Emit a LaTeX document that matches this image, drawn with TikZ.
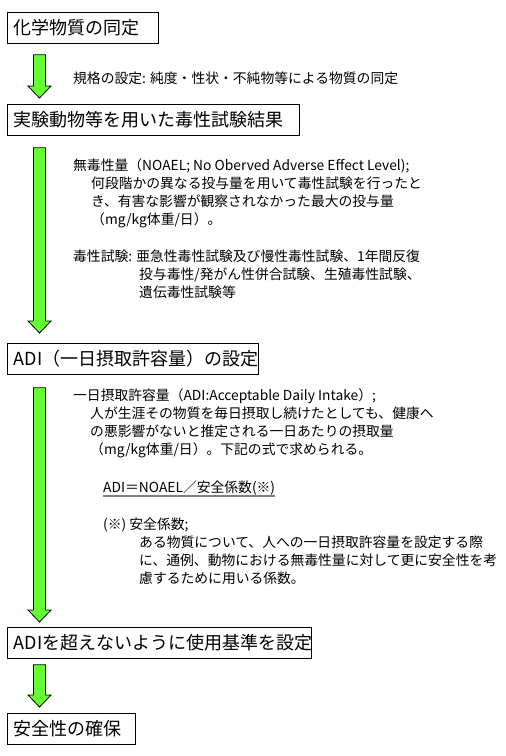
\documentclass[tikz,border=0pt]{standalone}
\usepackage{fontspec}
\setmainfont{Noto Sans CJK JP}
\usetikzlibrary{calc}
\definecolor{arrowgreen}{RGB}{102,255,51}
\tikzset{
  stagebox/.style={draw=black, line width=0.8pt, anchor=north west, inner xsep=6.5pt, inner ysep=0pt,
    minimum height=31pt, font=\fontsize{18}{20}\selectfont},
  bodytext/.style={anchor=base west, inner sep=0pt, font=\fontsize{13.8}{18}\selectfont},
  fatarrow/.style={draw=black, line width=0.8pt, fill=arrowgreen, line join=miter},
  underl/.style={draw=gray, line width=1.4pt}
}
\newcommand\greenarrow[2]{\path[fatarrow] let \p1=(#1), \p2=(#2) in
  (\x1-6pt,\y1) -- (\x1+6pt,\y1) -- (\x1+6pt,\y2+12pt) -- (\x1+11.5pt,\y2+12pt)
  -- (\x1,\y2) -- (\x1-11.5pt,\y2+12pt) -- (\x1-6pt,\y2+12pt) -- cycle;}
\begin{document}
\begin{tikzpicture}[x=1pt,y=-1pt]
\useasboundingbox[fill=white] (0,0) rectangle (506,756);
% stage boxes
\node[stagebox] (b1) at (7,12)  {\makebox[138pt][l]{化学物質の同定}};
\node[stagebox] (b2) at (7,104) {\makebox[279pt][l]{実験動物等を用いた毒性試験結果}};
\node[stagebox] (b3) at (7,343) {\makebox[238pt][l]{ADI（一日摂取許容量）の設定}};
\node[stagebox] (b4) at (7,627) {\makebox[291pt][l]{ADIを超えないように使用基準を設定}};
\node[stagebox] (b5) at (7,713) {\makebox[115pt][l]{安全性の確保}};
% arrow end points
\coordinate (a1s) at ($(b1.south west)+(32.5,11)$);
\coordinate (a1e) at ($(b2.north west)+(32.5,-6)$);
\coordinate (a2s) at ($(b2.south west)+(32.5,12)$);
\coordinate (a2e) at ($(b3.north west)+(32.5,-10)$);
\coordinate (a3s) at ($(b3.south west)+(32.5,13)$);
\coordinate (a3e) at ($(b4.north west)+(32.5,-5)$);
\coordinate (a4s) at ($(b4.south west)+(32.5,6)$);
\coordinate (a4e) at ($(b5.north west)+(32.5,-6)$);
\greenarrow{a1s}{a1e}
\greenarrow{a2s}{a2e}
\greenarrow{a3s}{a3e}
\greenarrow{a4s}{a4e}
% texts, step 1
\node[bodytext] (t1) at (73,83) {規格の設定: 純度・性状・不純物等による物質の同定};
% texts, step 2
\node[bodytext] (t2a) at (73,170) {無毒性量（NOAEL; No Oberved Adverse Effect Level);};
\node[bodytext] (t2b) at (91,188) {何段階かの異なる投与量を用いて毒性試験を行ったと};
\node[bodytext] (t2c) at (91,206) {き、有害な影響が観察されなかった最大の投与量};
\node[bodytext] (t2d) at (91,224) {（mg/kg体重/日）。};
\node[bodytext] (t2e) at (73,261) {毒性試験: 亜急性毒性試験及び慢性毒性試験、1年間反復};
\node[bodytext] (t2f) at (139,279) {投与毒性/発がん性併合試験、生殖毒性試験、};
\node[bodytext] (t2g) at (139,297) {遺伝毒性試験等};
% texts, step 3
\node[bodytext] (t3a) at (73,400) {一日摂取許容量（ADI:Acceptable Daily Intake）;};
\node[bodytext] (t3b) at (90,418) {人が生涯その物質を毎日摂取し続けたとしても、健康へ};
\node[bodytext] (t3c) at (90,436) {の悪影響がないと推定される一日あたりの摂取量};
\node[bodytext] (t3d) at (90,454) {（mg/kg体重/日）。下記の式で求められる。};
\node[bodytext] (t3e) at (103,492) {ADI＝NOAEL／安全係数(※)};
\draw[underl] ($(t3e.base west)+(0,4)$) -- ($(t3e.base east)+(0,4)$);
\node[bodytext] (t3f) at (103,529) {(※) 安全係数;};
\node[bodytext] (t3g) at (139,547) {ある物質について、人への一日摂取許容量を設定する際};
\node[bodytext] (t3h) at (139,565) {に、通例、動物における無毒性量に対して更に安全性を考};
\node[bodytext] (t3i) at (139,583) {慮するために用いる係数。};
\end{tikzpicture}
\end{document}
